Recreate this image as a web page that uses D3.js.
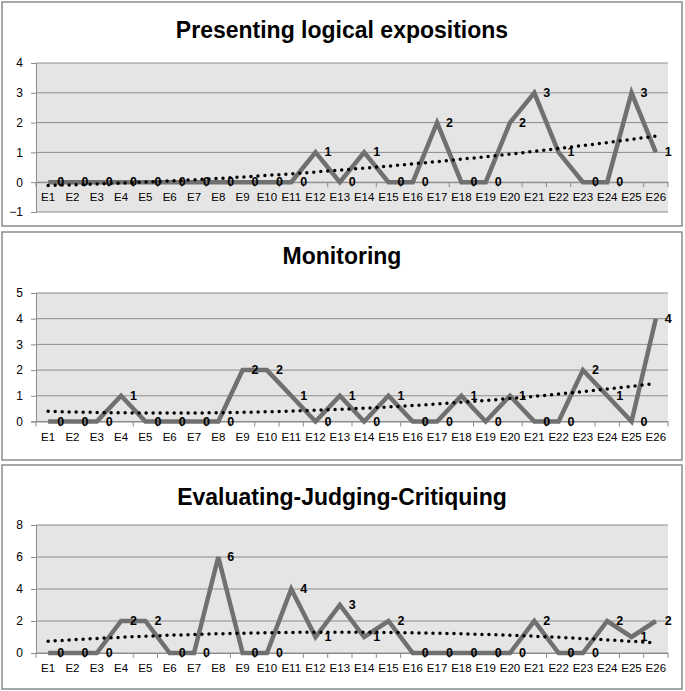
<!DOCTYPE html>
<html lang="en">
  <head>
    <meta charset="UTF-8" />
    <title>Three line charts</title>
    <style>
      body {
        margin: 0;
        background: #ffffff;
        font-family: "Liberation Sans Narrow", "Liberation Sans", sans-serif;
      }
      svg {
        display: block;
      }
      .title {
        font-family: "Liberation Sans", sans-serif;
        font-weight: bold;
        font-size: 23px;
        fill: #000;
      }
      .tick text {
        font-size: 12px;
        fill: #000;
      }
      .dlabel {
        font-size: 12.5px;
        font-weight: bold;
        fill: #000;
      }
    </style>
  </head>
  <body>
    <svg width="685" height="691"></svg>
    <script src="https://d3js.org/d3.v7.min.js"></script>
    <script>
      const categories = d3.range(1, 27).map((i) => "E" + i);

      const presentingValues = [0, 0, 0, 0, 0, 0, 0, 0, 0, 0, 0, 1, 0, 1, 0, 0, 2, 0, 0, 2, 3, 1, 0, 0, 3, 1];
      const monitoringValues = [0, 0, 0, 1, 0, 0, 0, 0, 2, 2, 1, 0, 1, 0, 1, 0, 0, 1, 0, 1, 0, 0, 2, 1, 0, 4];
      const evaluatingValues = [0, 0, 0, 2, 2, 0, 0, 6, 0, 0, 4, 1, 3, 1, 2, 0, 0, 0, 0, 0, 2, 0, 0, 2, 1, 2];

      const titles = ["Presenting logical expositions", "Monitoring", "Evaluating-Judging-Critiquing"];
      const yTicks = [[-1, 0, 1, 2, 3, 4], [0, 1, 2, 3, 4, 5], [0, 2, 4, 6, 8]];

      const svg = d3.select("svg");

      // panel boxes and plot areas (layout only)
      const panels = [
        { values: presentingValues, box: [2, 2, 680, 224], titleY: 30, plot: [63, 212], domain: [-1, 4] },
        { values: monitoringValues, box: [2, 232, 680, 228], titleY: 256, plot: [293, 421.5], domain: [0, 5] },
        { values: evaluatingValues, box: [2, 465, 680, 224], titleY: 497, plot: [525, 653], domain: [0, 8] },
      ];

      const plotLeft = 36,
        plotRight = 668;

      const x = d3.scaleBand().domain(categories).range([plotLeft, plotRight]).padding(0);
      const cx = (c) => x(c) + x.bandwidth() / 2;

      // quadratic least squares trend, like a spreadsheet polynomial trendline
      function quadFit(ys) {
        let s = [0, 0, 0, 0, 0],
          t = [0, 0, 0];
        ys.forEach((y, i) => {
          const xi = i + 1;
          for (let k = 0; k < 5; k++) s[k] += Math.pow(xi, k);
          for (let k = 0; k < 3; k++) t[k] += y * Math.pow(xi, k);
        });
        const A = [
          [s[0], s[1], s[2], t[0]],
          [s[1], s[2], s[3], t[1]],
          [s[2], s[3], s[4], t[2]],
        ];
        for (let i = 0; i < 3; i++) {
          for (let j = i + 1; j < 3; j++) {
            const f = A[j][i] / A[i][i];
            for (let k = i; k < 4; k++) A[j][k] -= f * A[i][k];
          }
        }
        const c = [0, 0, 0];
        for (let i = 2; i >= 0; i--) {
          let v = A[i][3];
          for (let k = i + 1; k < 3; k++) v -= A[i][k] * c[k];
          c[i] = v / A[i][i];
        }
        return ys.map((_, i) => c[0] + c[1] * (i + 1) + c[2] * (i + 1) * (i + 1));
      }

      panels.forEach((p, pi) => {
        const g = svg.append("g");

        g.append("rect")
          .attr("x", p.box[0])
          .attr("y", p.box[1])
          .attr("width", p.box[2])
          .attr("height", p.box[3])
          .attr("fill", "#fff")
          .attr("stroke", "#8a8a8a")
          .attr("stroke-width", 1.5);

        g.append("text")
          .attr("class", "title")
          .attr("x", 342)
          .attr("y", p.titleY)
          .attr("text-anchor", "middle")
          .attr("dominant-baseline", "central")
          .text(titles[pi]);

        const y = d3.scaleLinear().domain(p.domain).range([p.plot[1], p.plot[0]]);

        g.append("rect")
          .attr("x", plotLeft)
          .attr("y", p.plot[0])
          .attr("width", plotRight - plotLeft)
          .attr("height", p.plot[1] - p.plot[0])
          .attr("fill", "#e5e5e5");

        g.append("g")
          .selectAll("line")
          .data(yTicks[pi])
          .join("line")
          .attr("x1", plotLeft)
          .attr("x2", plotRight)
          .attr("y1", (d) => y(d))
          .attr("y2", (d) => y(d))
          .attr("stroke", "#8c8c8c")
          .attr("stroke-width", 1);

        const yAxis = g
          .append("g")
          .attr("transform", `translate(${plotLeft},0)`)
          .call(d3.axisLeft(y).tickValues(yTicks[pi]).tickSize(5).tickPadding(8).tickFormat(d3.format("d")));
        yAxis.select(".domain").attr("stroke", "#8c8c8c");
        yAxis.selectAll(".tick line").attr("stroke", "#8c8c8c");

        // category axis crosses at zero
        const y0 = y(0);
        const xAxis = g
          .append("g")
          .attr("transform", `translate(0,${y0})`)
          .call(d3.axisBottom(x).tickSize(0).tickPadding(11));
        xAxis.select(".domain").attr("stroke", "#8c8c8c");
        xAxis.selectAll(".tick text").style("font-size", "11.5px");

        g.append("g")
          .selectAll("line")
          .data(categories.concat(["end"]))
          .join("line")
          .attr("x1", (d) => (d === "end" ? plotRight : x(d)))
          .attr("x2", (d) => (d === "end" ? plotRight : x(d)))
          .attr("y1", y0)
          .attr("y2", y0 + 5)
          .attr("stroke", "#8c8c8c");

        const line = d3
          .line()
          .x((d, i) => cx(categories[i]))
          .y((d) => y(d));

        g.append("path")
          .datum(p.values)
          .attr("d", line)
          .attr("fill", "none")
          .attr("stroke", "#707070")
          .attr("stroke-width", 4.5)
          .attr("stroke-linejoin", "miter");

        g.append("path")
          .datum(quadFit(p.values))
          .attr("d", line.curve(d3.curveMonotoneX))
          .attr("fill", "none")
          .attr("stroke", "#000")
          .attr("stroke-width", 3.5)
          .attr("stroke-linecap", "round")
          .attr("stroke-dasharray", "0 7");

        g.append("g")
          .selectAll("text")
          .data(p.values)
          .join("text")
          .attr("class", "dlabel")
          .attr("x", (d, i) => cx(categories[i]) + 9)
          .attr("y", (d) => y(d))
          .attr("dominant-baseline", "central")
          .text((d) => d);
      });
    </script>
  </body>
</html>
